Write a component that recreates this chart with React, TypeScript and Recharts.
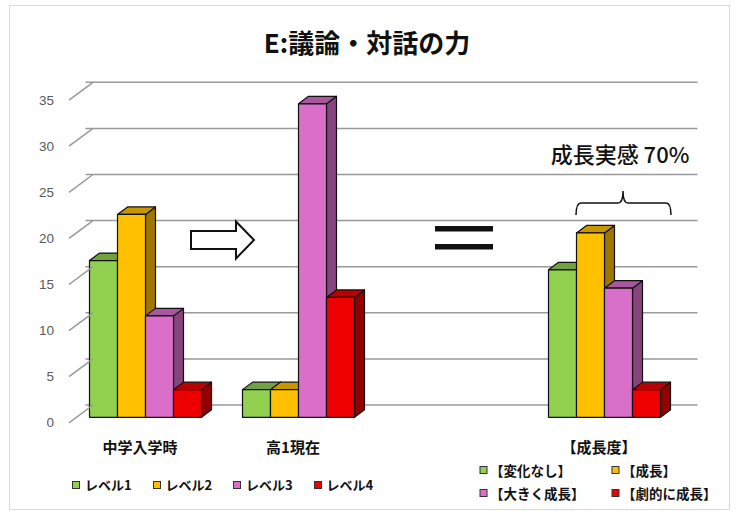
import React from "react";
import { BarChart, Bar, XAxis, YAxis, Legend, CartesianGrid } from "recharts";

// values (people per level)
const categories = ["中学入学時", "高1現在", "", "【成長度】"];
const level1 = [17, 3, null, 16];
const level2 = [22, 3, null, 20];
const level3 = [11, 34, null, 14];
const level4 = [3, 13, null, 3];
const seriesNames = ["レベル1", "レベル2", "レベル3", "レベル4"];
const seriesKeys = ["l1", "l2", "l3", "l4"];
const colors = ["#92D050", "#FFC000", "#D96FC9", "#EE0000"];
const growthLabels = ["【変化なし】", "【成長】", "【大きく成長】", "【劇的に成長】"];
const yTicks = [0, 5, 10, 15, 20, 25, 30, 35];

const data = categories.map((name, i) => ({
  name,
  l1: level1[i],
  l2: level2[i],
  l3: level3[i],
  l4: level4[i],
}));

const JP = '"Noto Sans CJK JP", "Noto Sans", sans-serif';

// 3D depth of the wall / bars
const WALL_DX = 24;
const WALL_DY = 12.3;
const FRONT_DY = 5.5;
const BAR_DX = 10;
const BAR_DY = 7.5;

function shade(hex: string, k: number) {
  const n = parseInt(hex.slice(1), 16);
  const r = Math.round(((n >> 16) & 255) * k);
  const g = Math.round(((n >> 8) & 255) * k);
  const b = Math.round((n & 255) * k);
  return `rgb(${r},${g},${b})`;
}

function Bar3D(props: any) {
  const { x, y, width, height, fill } = props;
  if (x == null || y == null || !height || height <= 0) return null;
  const w = width;
  const top = `${x},${y} ${x + BAR_DX},${y - BAR_DY} ${x + w + BAR_DX},${y - BAR_DY} ${x + w},${y}`;
  const side = `${x + w},${y} ${x + w + BAR_DX},${y - BAR_DY} ${x + w + BAR_DX},${y + height - BAR_DY} ${x + w},${y + height}`;
  return (
    <g stroke="#111" strokeWidth={1.2} strokeLinejoin="round">
      <polygon points={side} fill={shade(fill, 0.62)} />
      <polygon points={top} fill={shade(fill, 0.78)} />
      <rect x={x} y={y} width={w} height={height} fill={fill} />
    </g>
  );
}

function WallLine(props: any) {
  const { x1, x2, y1 } = props;
  return (
    <line
      x1={x1 + WALL_DX - 8}
      x2={x2 + WALL_DX - 8}
      y1={y1 - WALL_DY}
      y2={y1 - WALL_DY}
      stroke="#999"
      strokeWidth={1.5}
    />
  );
}

function SideTick(props: any) {
  const { x, y, payload } = props;
  const left = x - 0.5;
  return (
    <g>
      <line
        x1={left}
        y1={y + FRONT_DY}
        x2={left + WALL_DX}
        y2={y - WALL_DY}
        stroke="#999"
        strokeWidth={1.5}
      />
      <text
        x={left - 15}
        y={y + FRONT_DY}
        textAnchor="end"
        dominantBaseline="central"
        fontSize={13.5}
        fill="#595959"
        fontFamily='"Liberation Sans", Arial, sans-serif'
      >
        {payload.value}
      </text>
    </g>
  );
}

function CategoryTick(props: any) {
  const { x, y, payload } = props;
  return (
    <text
      x={x - 6}
      y={y + 21}
      textAnchor="middle"
      dominantBaseline="central"
      fontSize={15}
      fontWeight="bold"
      fill="#111"
      fontFamily={JP}
    >
      {payload.value}
    </text>
  );
}

function LevelLegend() {
  return (
    <div style={{ display: "flex", fontFamily: JP, fontSize: 13, color: "#111" }}>
      {seriesNames.map((n, i) => (
        <div key={n} style={{ width: 80.5, display: "flex", alignItems: "center" }}>
          <span
            style={{
              width: 6,
              height: 6,
              background: colors[i],
              border: "1px solid #333",
              marginRight: 5,
            }}
          />
          <span style={{ fontWeight: 600 }}>{n}</span>
        </div>
      ))}
    </div>
  );
}

function Overlay() {
  return (
    <svg
      width={737}
      height={518}
      style={{ position: "absolute", left: 0, top: 0, pointerEvents: "none" }}
    >
      <text
        x={367}
        y={41}
        textAnchor="middle"
        dominantBaseline="central"
        fontSize={26}
        fontWeight="bold"
        fontFamily={JP}
        fill="#111"
      >
        E:議論・対話の力
      </text>
      {/* arrow */}
      <polygon
        points="191,231 236,231 236,221.5 254,240 236,258.5 236,249 191,249"
        fill="#fff"
        stroke="#111"
        strokeWidth={2}
      />
      {/* equals sign */}
      <rect x={435} y={226} width={58} height={5.5} fill="#111" />
      <rect x={435} y={244} width={58} height={5.5} fill="#111" />
      {/* brace */}
      <path
        d="M576 215 Q576 203 581 203 L618 203 Q623 203 623 191 Q623 203 628 203 L666 203 Q671 203 671 215"
        fill="none"
        stroke="#111"
        strokeWidth={1.5}
      />
      <text
        x={620}
        y={153}
        textAnchor="middle"
        dominantBaseline="central"
        fontSize={22}
        fontFamily={JP}
        fontWeight={500}
        fill="#111"
      >
        成長実感 70%
      </text>
      {growthLabels.map((t, i) => {
        const gx = i % 2 === 0 ? 480 : 612;
        const gy = i < 2 ? 470 : 493;
        return (
          <g key={t}>
            <rect x={gx} y={gy - 3.5} width={7} height={7} fill={colors[i]} stroke="#333" strokeWidth={1} />
            <text
              x={gx + 10}
              y={gy}
              dominantBaseline="central"
              fontSize={13.5}
              fontWeight="bold"
              fontFamily={JP}
              fill="#111"
            >
              {t}
            </text>
          </g>
        );
      })}
    </svg>
  );
}

export default function App() {
  return (
    <div style={{ position: "absolute", left: 0, top: 0, width: 737, height: 518, background: "#fff" }}>
      <div
        style={{
          position: "absolute",
          left: 9,
          top: 5,
          width: 719,
          height: 503,
          border: "1px solid #D9D9D9",
        }}
      />
      <BarChart
        width={737}
        height={518}
        data={data}
        margin={{ top: 94.6, right: 55.5, left: 0, bottom: 70.7 }}
        barCategoryGap={20}
        barGap={0}
        style={{ position: "absolute", left: 0, top: 0 }}
      >
        <CartesianGrid vertical={false} horizontal={(p: any) => <WallLine key={p.key} {...p} />} />
        <XAxis
          dataKey="name"
          axisLine={false}
          tickLine={false}
          interval={0}
          height={30}
          tick={<CategoryTick />}
        />
        <YAxis
          domain={[0, 35]}
          ticks={yTicks}
          width={69.5}
          axisLine={false}
          tickLine={false}
          tickMargin={0}
          tickSize={0}
          tick={<SideTick />}
        />
        <Legend
          layout="horizontal"
          verticalAlign="middle"
          align="center"
          wrapperStyle={{ position: "absolute", left: 72, top: 475, width: 330 }}
          content={<LevelLegend />}
        />
        {seriesKeys.map((k, i) => (
          <Bar
            key={k}
            dataKey={k}
            name={seriesNames[i]}
            fill={colors[i]}
            shape={<Bar3D />}
            isAnimationActive={false}
          />
        ))}
      </BarChart>
      <Overlay />
    </div>
  );
}
